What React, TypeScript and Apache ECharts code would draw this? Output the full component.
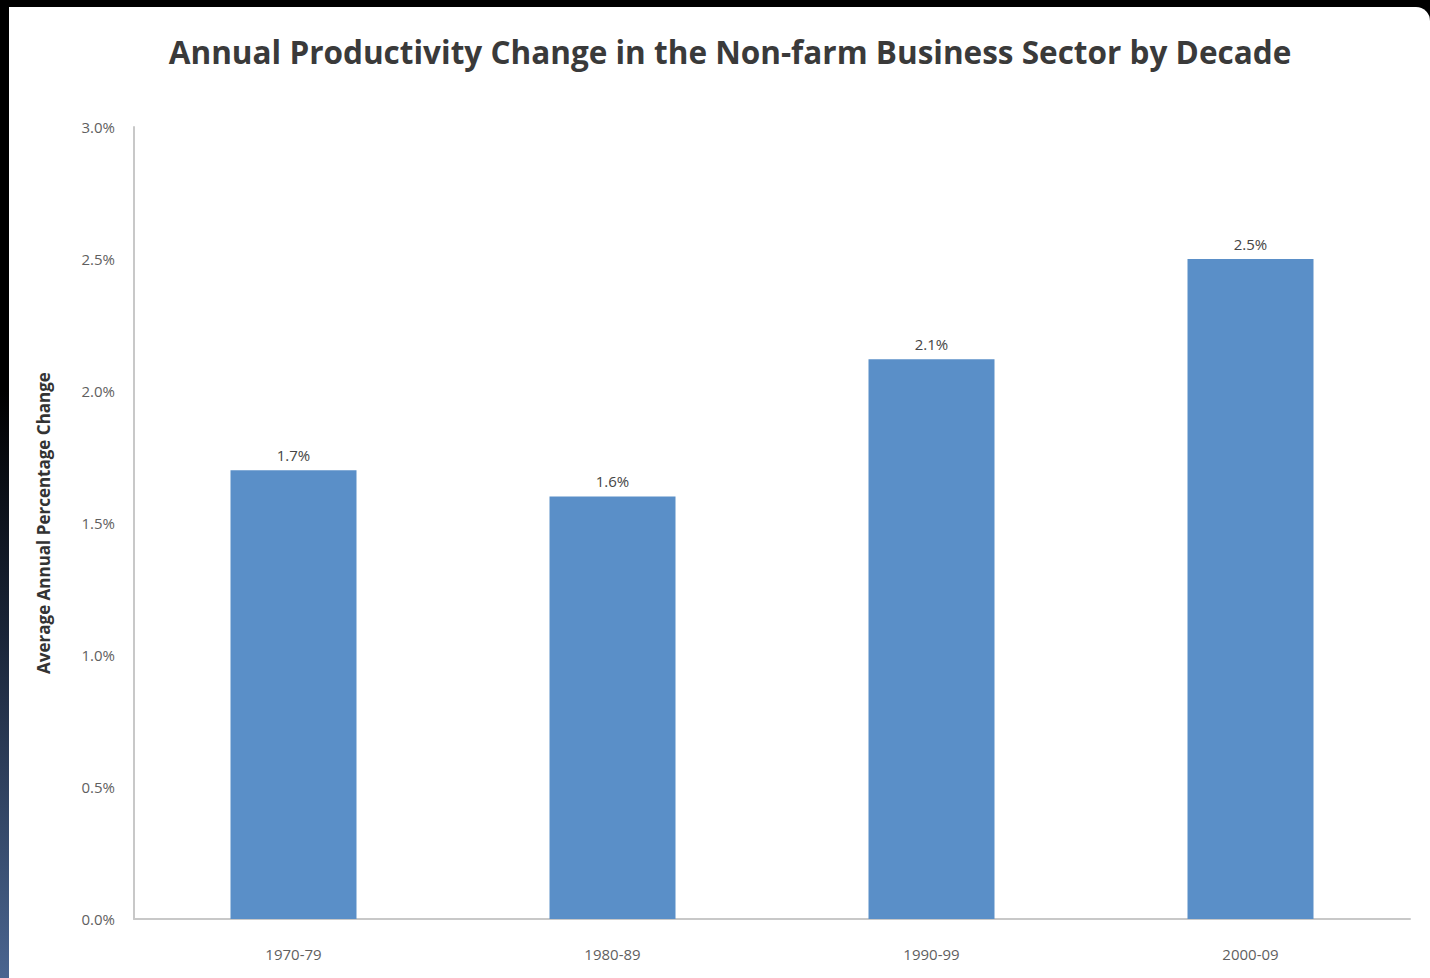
import React, { useEffect, useRef } from "react";
import * as echarts from "echarts";

const categories = ["1970-79", "1980-89", "1990-99", "2000-09"];
const values = [1.7, 1.6, 2.12, 2.5];
const yTicks = [0, 0.5, 1.0, 1.5, 2.0, 2.5, 3.0];
const titleText = "Annual Productivity Change in the Non-farm Business Sector by Decade";
const yAxisName = "Average Annual Percentage Change";

export default function App() {
  const ref = useRef<HTMLDivElement>(null);
  useEffect(() => {
    document.body.style.margin = "0";
    document.body.style.background = "#000";
    const chart = echarts.init(ref.current!, null, { renderer: "svg" });
    const smallText = { fontFamily: "Open Sans", fontSize: 15 };
    chart.setOption({
      animation: false,
      backgroundColor: "transparent",
      title: {
        text: titleText,
        left: 725,
        top: 30,
        textAlign: "center",
        textStyle: { fontFamily: "Open Sans", fontWeight: "bold", fontSize: 31.5, color: "#3a3a3a" },
      },
      grid: { left: 134, right: 20, top: 127, bottom: 59, containLabel: false },
      xAxis: {
        type: "category",
        data: categories,
        axisLine: { lineStyle: { color: "#c8c8c8", width: 2 } },
        axisTick: { show: false },
        axisLabel: { ...smallText, color: "#5f5f5f", margin: 27 },
      },
      yAxis: {
        type: "value",
        min: yTicks[0],
        max: yTicks[yTicks.length - 1],
        interval: 0.5,
        name: yAxisName,
        nameLocation: "middle",
        nameGap: 82,
        nameTextStyle: { fontFamily: "Open Sans", fontWeight: "bold", fontSize: 17, color: "#333" },
        axisLine: { show: true, lineStyle: { color: "#c8c8c8", width: 2 } },
        axisTick: { show: false },
        splitLine: { show: false },
        axisLabel: {
          ...smallText,
          color: "#5f5f5f",
          margin: 19,
          formatter: (v: number) => v.toFixed(1) + "%",
        },
      },
      series: [
        {
          type: "bar",
          data: values,
          barWidth: 126,
          itemStyle: { color: "#5a8fc8" },
          label: {
            ...smallText,
            show: true,
            position: "top",
            distance: 8,
            color: "#454545",
            formatter: (p: any) => p.value.toFixed(1) + "%",
          },
        },
      ],
    });
    return () => chart.dispose();
  }, []);
  return (
    <div style={{ position: "relative", width: 1430, height: 978, background: "#000", overflow: "hidden" }}>
      <div
        style={{
          position: "absolute",
          left: 0,
          top: 0,
          width: 9,
          height: 978,
          background: "linear-gradient(to bottom, #000 0%, #000 40%, #1a2538 65%, #4a6590 100%)",
        }}
      />
      <div
        style={{
          position: "absolute",
          left: 9,
          top: 7,
          width: 1421,
          height: 971,
          background: "#fff",
          borderTopRightRadius: 14,
        }}
      />
      <div ref={ref} style={{ position: "absolute", left: 0, top: 0, width: 1430, height: 978 }} />
    </div>
  );
}
